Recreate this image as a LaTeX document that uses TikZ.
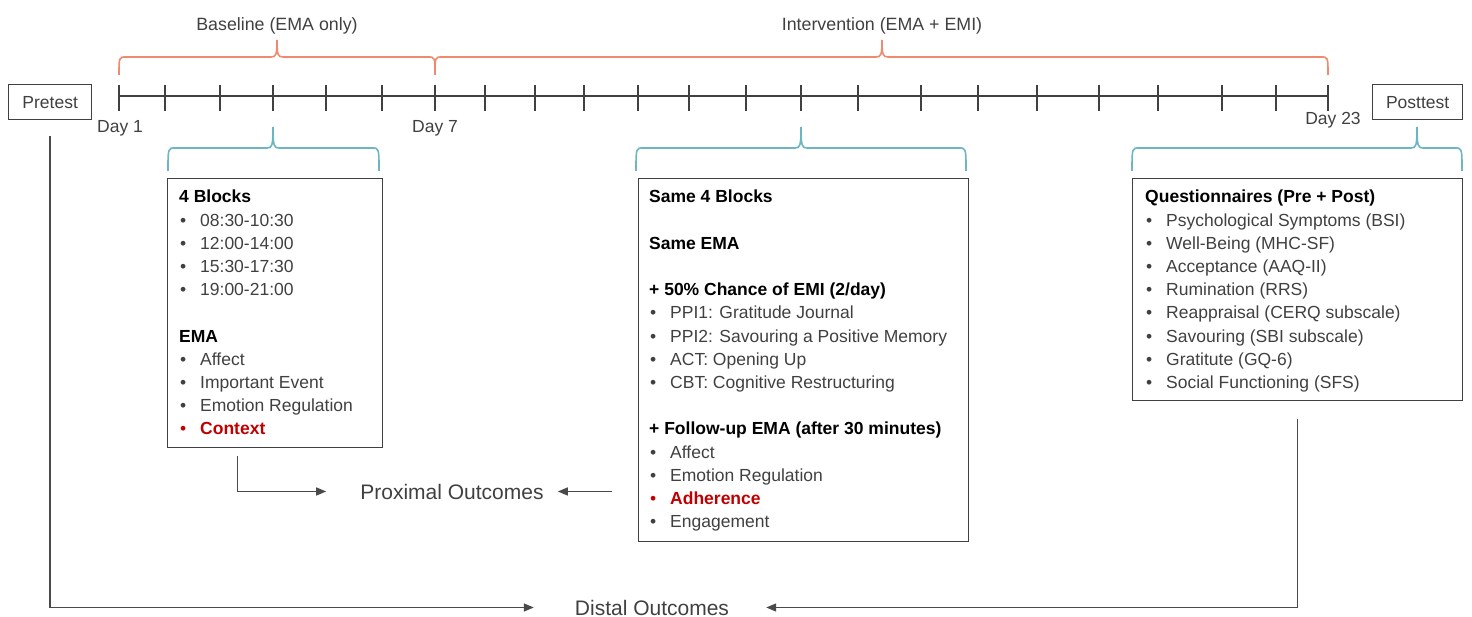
\documentclass[tikz,border=0pt]{standalone}
\usepackage{fontspec}
\setmainfont{Liberation Sans}
\usetikzlibrary{arrows.meta,calc}
\definecolor{txt}{HTML}{404040}
\definecolor{brO}{HTML}{EE8B6E}
\definecolor{brB}{HTML}{6DB5C5}
\definecolor{redt}{HTML}{C00000}
\definecolor{ln}{HTML}{4A4A4A}
\newcommand{\mybrace}[7]{%
 \draw[#1] (#2,#6) .. controls (#2,#5) and (#2,#5) .. ({#2+7},#5) -- ({#3-6},#5)
   .. controls ({#3-1},#5) and (#3,{#5-2}) .. (#3,#7)
   .. controls (#3,{#5-2}) and ({#3+1},#5) .. ({#3+6},#5) -- ({#4-7},#5)
   .. controls (#4,#5) and (#4,#5) .. (#4,#6);}
\newcommand{\bi}[1]{\leavevmode\makebox[21pt][l]{\hspace{1pt}\textbullet}#1\par}
\newcommand{\rbi}[1]{\leavevmode{\color{redt}\makebox[21pt][l]{\hspace{1pt}\textbullet}\textbf{#1}}\par}
\newcommand{\hd}[1]{\leavevmode{\color{black}\textbf{#1}}\par}
\newcommand{\blankln}{\mbox{}\par}
\begin{document}
\begin{tikzpicture}[x=1pt,y=-1pt,
  boxst/.style={draw=txt, line width=1.3pt, inner sep=0pt},
  lbl/.style={inner sep=0pt, text=txt, font=\fontsize{17.5}{21}\selectfont},
  big/.style={inner sep=0pt, text=txt, font=\fontsize{21}{25}\selectfont},
  listst/.style={inner sep=0pt, anchor=base west, text=txt},
  conn/.style={draw=ln, line width=1.4pt, -{Triangle[length=10pt,width=8pt]}},
  tl/.style={draw=txt, line width=1.2pt},
  obrace/.style={draw=brO, line width=1.6pt},
  bbrace/.style={draw=brB, line width=1.6pt}]
\useasboundingbox (0,0) rectangle (1472,617);

% timeline
\draw[tl] (119,96) -- (1328,96);
\foreach \x in {119,165,220,273,326,382,435,485,535,584,638,689,746,801,858,921,978,1037,1099,1158,1222,1276,1328}
  \draw[tl] (\x,85) -- (\x,111);

% day labels
\node[lbl, anchor=base] (d1) at (120,133) {Day 1};
\node[lbl, anchor=base] (d7) at (435,133) {Day 7};
\node[lbl, anchor=base] (d23) at (1333,125) {Day 23};

% phase labels and braces
\node[lbl, anchor=base, font=\fontsize{17.8}{21}\selectfont] (basel) at (277,31) {Baseline (EMA only)};
\node[lbl, anchor=base, font=\fontsize{17.8}{21}\selectfont] (interv) at (882,31) {Intervention (EMA + EMI)};
\mybrace{obrace}{119}{277}{435}{57}{75}{40}
\mybrace{obrace}{435}{882}{1328}{57}{75}{40}

% pre / post boxes
\node[boxst, minimum width=83pt, minimum height=35pt, anchor=north west, font=\fontsize{17.5}{21}\selectfont, text=txt] (pre) at (8,84) {Pretest};
\node[boxst, minimum width=90pt, minimum height=35pt, anchor=north west, font=\fontsize{17.5}{21}\selectfont, text=txt] (post) at (1372,84) {Posttest};

% blue braces
\mybrace{bbrace}{168}{273}{379}{148}{171}{127}
\mybrace{bbrace}{636}{801}{966}{148}{171}{127}
\mybrace{bbrace}{1132}{1417}{1462}{148}{171}{127}

% content boxes
\node[boxst, minimum width=215pt, minimum height=269pt, anchor=north west] (b1) at (167,178) {};
\node[boxst, minimum width=330pt, minimum height=363pt, anchor=north west] (b2) at (638,178) {};
\node[boxst, minimum width=330pt, minimum height=222pt, anchor=north west] (b3) at (1132,178) {};

\node[listst] (t1) at (179,203) {\parbox[t]{200pt}{\fontsize{17.5}{23.2}\selectfont%
\hd{4 Blocks}
\bi{08:30-10:30}
\bi{12:00-14:00}
\bi{15:30-17:30}
\bi{19:00-21:00}
\blankln
\hd{EMA}
\bi{Affect}
\bi{Important Event}
\bi{Emotion Regulation}
\rbi{Context}}};

\node[listst] (t2) at (649,203) {\parbox[t]{315pt}{\fontsize{17.5}{23.2}\selectfont%
\hd{Same 4 Blocks}
\blankln
\hd{Same EMA}
\blankln
\hd{+ 50\% Chance of EMI (2/day)}
\bi{PPI1: Gratitude Journal}
\bi{PPI2: Savouring a Positive Memory}
\bi{ACT: Opening Up}
\bi{CBT: Cognitive Restructuring}
\blankln
\hd{+ Follow-up EMA (after 30 minutes)}
\bi{Affect}
\bi{Emotion Regulation}
\rbi{Adherence}
\bi{Engagement}}};

\node[listst] (t3) at (1145,203) {\parbox[t]{315pt}{\fontsize{17.5}{23.2}\selectfont%
\hd{Questionnaires (Pre + Post)}
\bi{Psychological Symptoms (BSI)}
\bi{Well-Being (MHC-SF)}
\bi{Acceptance (AAQ-II)}
\bi{Rumination (RRS)}
\bi{Reappraisal (CERQ subscale)}
\bi{Savouring (SBI subscale)}
\bi{Gratitute (GQ-6)}
\bi{Social Functioning (SFS)}}};

% outcomes
\node[big, anchor=base] (prox) at (452,499) {Proximal Outcomes};
\node[big, anchor=base] (distal) at (652,615) {Distal Outcomes};

% connectors
\draw[conn] ([xshift=-37.5pt,yshift=-8pt]b1.south) |- ([xshift=-34pt]prox.west);
\coordinate (p2) at (b2.west |- prox.east);
\draw[conn] ([xshift=-26pt]p2) -- ([xshift=14pt]prox.east);
\draw[conn] ([yshift=-16pt]pre.south) |- ([xshift=-41pt]distal.west);
\draw[conn] ([yshift=-18pt]b3.south) |- ([xshift=37pt]distal.east);
\end{tikzpicture}
\end{document}
